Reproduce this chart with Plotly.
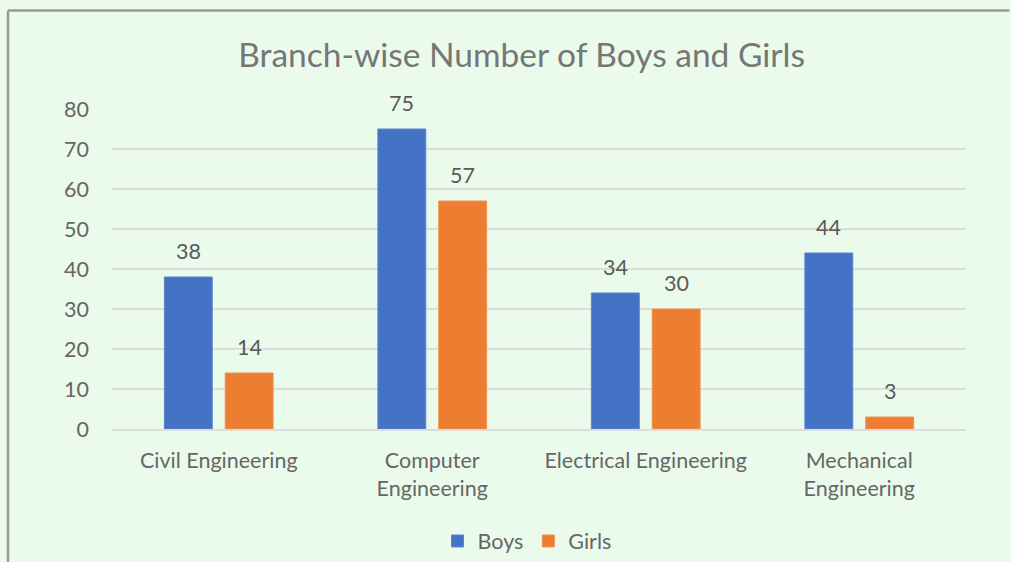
import plotly.graph_objects as go

categories = ["Civil Engineering", "Computer<br>Engineering", "Electrical Engineering", "Mechanical<br>Engineering"]
boys = [38, 75, 34, 44]
girls = [14, 57, 30, 3]
y_ticks = [0, 10, 20, 30, 40, 50, 60, 70, 80]

BG = "#EAFBEC"
TXT = "#666666"
FONT = "Lato, 'Open Sans', sans-serif"
FS = 21.5

fig = go.Figure()
fig.add_bar(name="Boys", x=categories, y=boys, marker=dict(color="#4472C4", line=dict(color="#5B84CC", width=1)))
fig.add_bar(name="Girls", x=categories, y=girls, marker=dict(color="#ED7D31", line=dict(color="#F0914F", width=1)))

annotations = []
for series, shift in ((boys, -30.5), (girls, 30.5)):
    for c, v in zip(categories, series):
        annotations.append(dict(x=c, y=v, xref="x", yref="y", text=str(v), showarrow=False,
                                xshift=shift, yshift=11, yanchor="bottom",
                                font=dict(size=FS, color="#595959", family=FONT)))

X_LEFT = (8 - 112) / 854
X_RIGHT = (1009.5 - 112) / 854
Y_TOP = (429 - 10.5) / 320
Y_BOT = (429 - 562) / 320

fig.update_layout(
    width=1011, height=562,
    paper_bgcolor=BG, plot_bgcolor=BG,
    margin=dict(l=112, r=45, t=109, b=133, autoexpand=False),
    barmode="group", bargap=0.43, bargroupgap=0.213,
    font=dict(family=FONT, color=TXT, size=FS),
    title=dict(text="Branch-wise Number of Boys and Girls", x=0.5159, xanchor="center",
               y=1 - 55 / 562, yanchor="middle", font=dict(size=33.5, color="#767676", family=FONT)),
    legend=dict(orientation="h", x=0.486, xanchor="center", y=-0.35, yanchor="middle",
                font=dict(size=FS, color=TXT), bgcolor="rgba(0,0,0,0)", itemwidth=30),
    annotations=annotations,
    shapes=[
        dict(type="line", xref="paper", yref="paper", x0=X_LEFT, x1=X_LEFT,
             y0=Y_BOT, y1=Y_TOP, line=dict(color="#999999", width=2.5), layer="below"),
        dict(type="line", xref="paper", yref="paper", x0=X_LEFT, x1=X_RIGHT,
             y0=Y_TOP, y1=Y_TOP, line=dict(color="#999999", width=2.5), layer="below"),
    ],
    yaxis=dict(range=[0, 80], tickvals=y_ticks, showgrid=True, gridcolor="#DCDCDC", gridwidth=1.5,
               zeroline=False, showline=False, ticks="", ticklabelstandoff=22, automargin=False,
               tickfont=dict(size=FS, color=TXT)),
    xaxis=dict(showline=True, linecolor="#DCDCDC", linewidth=1.5, ticks="", tickfont=dict(size=FS, color=TXT),
               ticklabelstandoff=11, automargin=False),
)

fig.write_html("out.html")
